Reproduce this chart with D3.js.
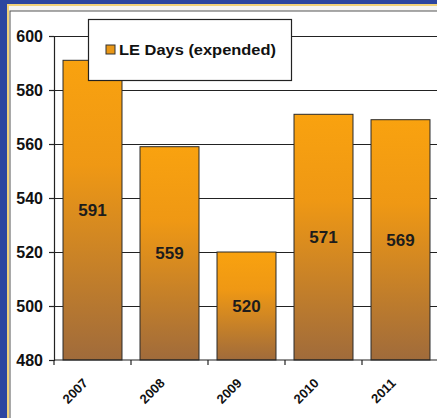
<!DOCTYPE html>
<html>
<head>
<meta charset="utf-8">
<script src="https://cdnjs.cloudflare.com/ajax/libs/d3/7.8.5/d3.min.js"></script>
<style>
  html, body { margin: 0; padding: 0; background: #f5f5f3; }
  svg { display: block; font-family: "Liberation Sans", Arial, sans-serif; }
</style>
</head>
<body>
<div id="chart"></div>
<script>
// data
var years = ["2007", "2008", "2009", "2010", "2011"];
var leDays = [591, 559, 520, 571, 569];
var yTicks = [480, 500, 520, 540, 560, 580, 600];
var seriesName = "LE Days (expended)";

var W = 437, H = 418;
var plotLeft = 54, plotTop = 36, plotBottom = 360;

var svg = d3.select("#chart").append("svg")
    .attr("width", W)
    .attr("height", H);

var defs = svg.append("defs");
var grad = defs.append("linearGradient")
    .attr("id", "barGrad")
    .attr("x1", 0).attr("y1", 0).attr("x2", 0).attr("y2", 1);
grad.append("stop").attr("offset", "0%").attr("stop-color", "#f9a20f");
grad.append("stop").attr("offset", "35%").attr("stop-color", "#ef9814");
grad.append("stop").attr("offset", "100%").attr("stop-color", "#a06b3b");

// page background + frame
svg.append("rect").attr("width", W).attr("height", H).attr("fill", "#f5f5f3");
svg.append("rect").attr("x", 10).attr("y", 11).attr("width", W).attr("height", H)
    .attr("fill", "#ffffff").attr("stroke", "#555").attr("stroke-width", 1);

// blue border, left and top
svg.append("rect").attr("x", 0).attr("y", 0).attr("width", W).attr("height", 6).attr("fill", "#f1d27a");
svg.append("rect").attr("x", 0).attr("y", 0).attr("width", 9).attr("height", H).attr("fill", "#f1d27a");
svg.append("rect").attr("x", 0).attr("y", 0).attr("width", W).attr("height", 4).attr("fill", "#2c46a0");
svg.append("rect").attr("x", 0).attr("y", 0).attr("width", 7).attr("height", H).attr("fill", "#2c46a0");

var x = d3.scaleBand()
    .domain(years)
    .range([plotLeft, plotLeft + 77 * years.length])
    .paddingInner(0.234)
    .paddingOuter(0.117);

var y = d3.scaleLinear()
    .domain([480, 600])
    .range([plotBottom, plotTop]);

// gridlines
svg.append("g")
    .selectAll("line")
    .data(yTicks.slice(1))
    .join("line")
    .attr("x1", plotLeft).attr("x2", W)
    .attr("y1", function (d) { return Math.round(y(d)) + 0.5; })
    .attr("y2", function (d) { return Math.round(y(d)) + 0.5; })
    .attr("stroke", "#222").attr("stroke-width", 1.2);

// bars
svg.append("g")
    .selectAll("rect")
    .data(leDays)
    .join("rect")
    .attr("x", function (d, i) { return x(years[i]); })
    .attr("y", function (d) { return y(d); })
    .attr("width", x.bandwidth())
    .attr("height", function (d) { return plotBottom - y(d); })
    .attr("fill", "url(#barGrad)")
    .attr("stroke", "#2a2a2a").attr("stroke-width", 1);

// value labels
svg.append("g")
    .selectAll("text")
    .data(leDays)
    .join("text")
    .attr("x", function (d, i) { return x(years[i]) + x.bandwidth() / 2; })
    .attr("y", function (d) { return (y(d) + plotBottom) / 2 + 6; })
    .attr("text-anchor", "middle")
    .attr("font-size", 17).attr("font-weight", "bold")
    .attr("fill", "#1c1c1c")
    .text(function (d) { return d; });

// y axis
var yAxis = svg.append("g")
    .attr("transform", "translate(" + plotLeft + ",0)")
    .call(d3.axisLeft(y).tickValues(yTicks).tickSize(5).tickPadding(6));
yAxis.select(".domain").attr("stroke", "#222").attr("stroke-width", 1.2);
yAxis.selectAll(".tick line").attr("stroke", "#222").attr("stroke-width", 1.2);
yAxis.selectAll("text")
    .attr("font-size", 16).attr("font-weight", "bold").attr("fill", "#111")
    .attr("font-family", "Liberation Sans, Arial, sans-serif");

// x axis
var xAxis = svg.append("g")
    .attr("transform", "translate(0," + plotBottom + ")");
xAxis.append("line")
    .attr("x1", plotLeft).attr("x2", W)
    .attr("stroke", "#222").attr("stroke-width", 1.2);
xAxis.selectAll(".sep")
    .data(d3.range(years.length + 1))
    .join("line")
    .attr("class", "sep")
    .attr("x1", function (i) { return plotLeft + x.step() * i; })
    .attr("x2", function (i) { return plotLeft + x.step() * i; })
    .attr("y1", 0).attr("y2", 5)
    .attr("stroke", "#222").attr("stroke-width", 1.2);
xAxis.selectAll("text")
    .data(years)
    .join("text")
    .attr("transform", function (d) {
        return "translate(" + (x(d) + x.bandwidth() / 2 - 4) + ",24) rotate(-45)";
    })
    .attr("text-anchor", "end")
    .attr("font-size", 13).attr("font-weight", "bold")
    .attr("fill", "#111")
    .text(function (d) { return d; });

// legend
var legend = svg.append("g");
legend.append("rect")
    .attr("x", 88.5).attr("y", 19.5).attr("width", 203).attr("height", 61)
    .attr("fill", "#ffffff").attr("stroke", "#222").attr("stroke-width", 1.2);
legend.append("rect")
    .attr("x", 106).attr("y", 45).attr("width", 9).attr("height", 9)
    .attr("fill", "#e99716").attr("stroke", "#333").attr("stroke-width", 1);
legend.append("text")
    .attr("x", 119).attr("y", 55)
    .attr("font-size", 15).attr("font-weight", "bold").attr("fill", "#111")
    .attr("textLength", 157).attr("lengthAdjust", "spacingAndGlyphs")
    .text(seriesName);
</script>
</body>
</html>
